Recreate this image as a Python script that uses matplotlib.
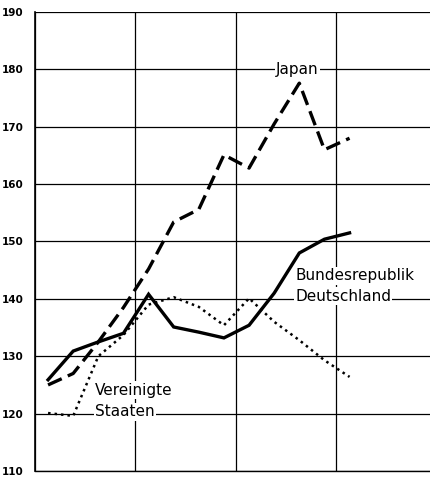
import numpy as np
import matplotlib.pyplot as plt

# index values, one point per year (positions between the grid lines)
years = np.arange(13)
japan = (125.0, 127.0, 132.5, 138.5, 145.2, 153.4, 155.6, 165.1, 162.8, 170.5, 177.6, 166.0, 168.0)
brd = (125.9, 130.9, 132.5, 134.0, 140.8, 135.1, 134.2, 133.2, 135.4, 141.0, 148.0, 150.4, 151.5)
usa = (120.1, 119.6, 130.0, 133.7, 139.0, 140.3, 138.6, 135.4, 140.1, 136.0, 132.8, 129.3, 126.4)
yticks = [110, 120, 130, 140, 150, 160, 170, 180, 190]

fig = plt.figure(figsize=(4.31, 4.79), dpi=100)
W, H = 431., 479.
ax = fig.add_axes([35/W, 8/H, (437-35)/W, (471-12)/H])

x = years + 0.52
ax.plot(x, japan, color='black', lw=2.4, linestyle=(0, (4.5, 2)), dash_capstyle='butt')
ax.plot(x, brd, color='black', lw=2.4, solid_joinstyle='miter')
ax.plot(x, usa, color='black', lw=1.8, linestyle=(0, (1, 1.6)))

ax.set_xlim(0, 16)
ax.set_ylim(110, 190)
ax.set_yticks(yticks)
ax.set_yticklabels([str(v) for v in yticks], fontsize=7.5, fontweight='bold')
ax.set_xticks([0, 4, 8, 12, 16])
ax.set_xticklabels([])
ax.tick_params(length=0, pad=8)
ax.grid(True, color='black', lw=0.9)
ax.set_axisbelow(True)
for s in ['top', 'right']:
    ax.spines[s].set_visible(False)
ax.spines['left'].set_linewidth(1.2)
ax.spines['bottom'].set_linewidth(1.0)

box = dict(facecolor='white', edgecolor='none', pad=1)
ax.text(10.45, 180, 'Japan', ha='center', va='center', fontsize=11, bbox=box)
ax.text(10.35, 144.0, 'Bundesrepublik', ha='left', va='center', fontsize=11, bbox=box)
ax.text(10.35, 140.5, 'Deutschland', ha='left', va='center', fontsize=11, bbox=box)
ax.text(2.4, 124.1, 'Vereinigte', ha='left', va='center', fontsize=11, bbox=box)
ax.text(2.4, 120.3, 'Staaten', ha='left', va='center', fontsize=11, bbox=box)

fig.savefig('out.png', dpi=100)
